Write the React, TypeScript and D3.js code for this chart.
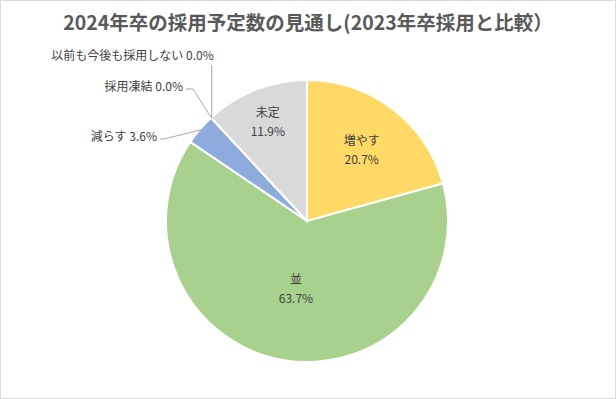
import React, { useEffect, useRef } from 'react';
import * as d3 from 'd3';

const categories = ['増やす', '並', '減らす', '採用凍結', '以前も今後も採用しない', '未定'];
const shares = [20.7, 63.7, 3.6, 0.0, 0.0, 11.9];
const colors = ['#FFD966', '#A9D18E', '#8FAADC', '#F4B183', '#C9C9C9', '#D9D9D9'];
const title = '2024年卒の採用予定数の見通し(2023年卒採用と比較）';

// label placement: inside labels use a radius fraction, outside ones get leader lines
const insideRadius: Record<string, number> = { '増やす': 0.64, '並': 0.48, '未定': 0.76 };

const W = 616;
const H = 399;

const App = () => {
  const ref = useRef<SVGSVGElement>(null);

  useEffect(() => {
    document.body.style.margin = '0';
    const svg = d3.select(ref.current);
    svg.selectAll('*').remove();

    svg
      .append('rect')
      .attr('x', 0.5)
      .attr('y', 0.5)
      .attr('width', W - 1)
      .attr('height', H - 1)
      .attr('fill', '#fff')
      .attr('stroke', '#D9D9D9');

    svg
      .append('text')
      .attr('x', W / 2)
      .attr('y', 30)
      .attr('text-anchor', 'middle')
      .attr('fill', '#595959')
      .style('font-size', '19.5px')
      .style('font-weight', 'bold')
      .text(title);

    const cx = 307;
    const cy = 221;
    const r = 141;

    const data = categories.map((c, i) => ({ name: c, value: shares[i], color: colors[i] }));
    const pie = d3
      .pie<{ name: string; value: number; color: string }>()
      .sort(null)
      .value(d => d.value);
    const arcs = pie(data);
    const arc = d3.arc<d3.PieArcDatum<any>>().innerRadius(0).outerRadius(r);

    const g = svg.append('g').attr('transform', `translate(${cx},${cy})`);

    g.selectAll('path')
      .data(arcs)
      .join('path')
      .attr('d', arc as any)
      .attr('fill', d => d.data.color)
      .attr('stroke', '#fff')
      .attr('stroke-width', 2);

    const fontFamily = '"Noto Sans CJK JP", sans-serif';
    const pt = (a: number, rad: number) => [rad * Math.sin(a), -rad * Math.cos(a)];

    arcs.forEach(d => {
      const mid = (d.startAngle + d.endAngle) / 2;
      const f = insideRadius[d.data.name];
      if (f !== undefined) {
        const [x, y] = pt(mid, r * f);
        const t = g
          .append('text')
          .attr('x', x)
          .attr('y', y)
          .attr('text-anchor', 'middle')
          .attr('fill', '#404040')
          .style('font-size', '12px')
          .style('font-family', fontFamily);
        t.append('tspan').attr('x', x).attr('dy', '-0.35em').text(d.data.name);
        t.append('tspan').attr('x', x).attr('dy', '1.6em').text(`${d.data.value.toFixed(1)}%`);
      }
    });

    // outside labels with leader lines
    const outside = arcs.filter(d => insideRadius[d.data.name] === undefined);
    const outerPos = [
      { dx: -150, dy: -84, elbow: -143 }, // 減らす
      { dx: -124, dy: -134, elbow: -114 }, // 採用凍結
      { dx: -93, dy: -165, elbow: null }, // 以前も今後も採用しない
    ];
    outside.forEach((d, i) => {
      const mid = (d.startAngle + d.endAngle) / 2;
      const [ex, ey] = pt(mid, r - 1);
      const p = outerPos[i];
      const line = d3.path();
      if (p.elbow === null) {
        line.moveTo(ex, ey);
        line.lineTo(ex, p.dy + 9);
      } else {
        line.moveTo(ex, ey);
        line.lineTo(p.elbow, p.dy + 2);
        line.lineTo(p.dx + 3, p.dy + 2);
      }
      g.append('path')
        .attr('d', line.toString())
        .attr('fill', 'none')
        .attr('stroke', '#A6A6A6')
        .attr('stroke-width', 1);
      g.append('text')
        .attr('x', p.elbow === null ? ex + 2 : p.dx)
        .attr('y', p.dy)
        .attr('dy', '0.35em')
        .attr('text-anchor', 'end')
        .attr('fill', '#404040')
        .style('font-size', '12px')
        .style('font-family', fontFamily)
        .text(`${d.data.name}  ${d.data.value.toFixed(1)}%`);
    });
  }, []);

  return (
    <svg
      ref={ref}
      width={W}
      height={H}
      style={{ display: 'block', fontFamily: '"Noto Sans CJK JP", sans-serif', whiteSpace: 'pre' }}
    ></svg>
  );
};

export default App;
